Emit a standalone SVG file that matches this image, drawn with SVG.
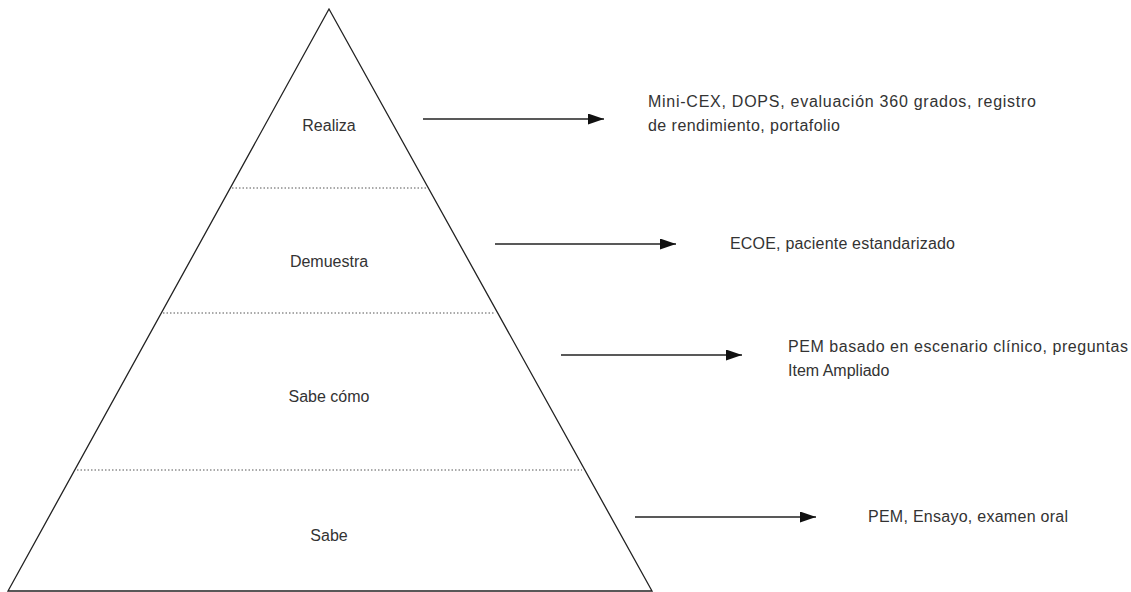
<svg xmlns="http://www.w3.org/2000/svg" width="1131" height="592" viewBox="0 0 1131 592">
<style>
.lbl{font-family:"Liberation Sans",Arial,sans-serif;font-size:16px;fill:#333;}
.mid{text-anchor:middle;}
.edge{stroke:#222;stroke-width:1.3;fill:none;}
.dot{stroke:#555;stroke-width:1;stroke-dasharray:1.5,2;}
</style>
<defs>
<marker id="ah" viewBox="0 0 16 11" refX="16" refY="5.5" markerWidth="16" markerHeight="11" markerUnits="userSpaceOnUse" orient="auto">
<path d="M0,0 L16,5.5 L0,11 Z" fill="#111"/>
</marker>
</defs>
<rect width="1131" height="592" fill="#fff"/>
<g id="pyramid">
<path class="edge" d="M329,9 L8,591 L652,591 Z"/>
<line class="dot" x1="232" y1="188" x2="428" y2="188"/>
<line class="dot" x1="163" y1="313" x2="495" y2="313"/>
<line class="dot" x1="77" y1="470" x2="582" y2="470"/>
</g>
<g id="realiza"><text class="lbl mid" x="329" y="131">Realiza</text></g>
<g id="demuestra"><text class="lbl mid" x="329" y="267">Demuestra</text></g>
<g id="sabecomo"><text class="lbl mid" x="329" y="402">Sabe cómo</text></g>
<g id="sabe"><text class="lbl mid" x="329" y="541">Sabe</text></g>
<g id="connectors" stroke="#222" stroke-width="1.3">
<line x1="423" y1="119" x2="604" y2="119" marker-end="url(#ah)"/>
<line x1="495" y1="244" x2="676" y2="244" marker-end="url(#ah)"/>
<line x1="561" y1="355" x2="742" y2="355" marker-end="url(#ah)"/>
<line x1="635" y1="517" x2="816" y2="517" marker-end="url(#ah)"/>
</g>
<g id="t1"><text class="lbl" x="648" y="107" textLength="388" lengthAdjust="spacing">Mini-CEX, DOPS, evaluación 360 grados, registro</text><text class="lbl" x="648" y="131" textLength="192" lengthAdjust="spacing">de rendimiento, portafolio</text></g>
<g id="t2"><text class="lbl" x="730" y="249" textLength="225" lengthAdjust="spacing">ECOE, paciente estandarizado</text></g>
<g id="t3"><text class="lbl" x="788" y="352" textLength="340" lengthAdjust="spacing">PEM basado en escenario clínico, preguntas</text><text class="lbl" x="788" y="376">Item Ampliado</text></g>
<g id="t4"><text class="lbl" x="868" y="522" textLength="200" lengthAdjust="spacing">PEM, Ensayo, examen oral</text></g>
</svg>
